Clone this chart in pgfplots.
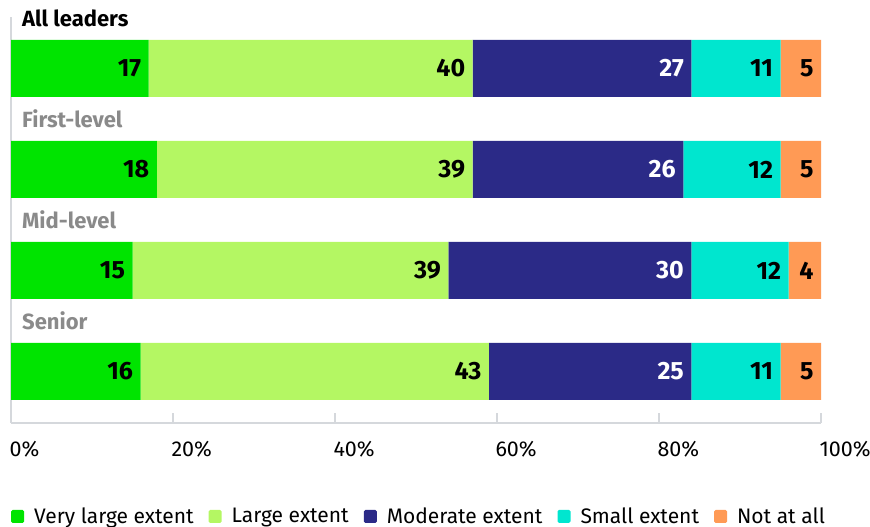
\documentclass[border=0pt]{standalone}
\usepackage{fontspec}
\setmainfont{Fira Sans}
\usepackage{pgfplots}
\pgfplotsset{compat=1.18}
\definecolor{cA}{HTML}{00E400}
\definecolor{cB}{HTML}{B4F763}
\definecolor{cC}{HTML}{2B2A87}
\definecolor{cD}{HTML}{00E6CF}
\definecolor{cE}{HTML}{FF9A55}
\definecolor{axisgrey}{HTML}{D5D8DC}
\definecolor{labgrey}{HTML}{8A8A8A}
\begin{document}
\begin{tikzpicture}
\useasboundingbox (0pt,0pt) rectangle (870pt,527pt);
\begin{axis}[
  at={(11pt,104pt)}, anchor=south west,
  scale only axis, width=810pt, height=406pt,
  xmin=0, xmax=100, ymin=104, ymax=510,
  xbar stacked, bar width=57pt,
  axis x line=bottom, axis y line=left,
  axis line style={-, draw=axisgrey, line width=1.5pt},
  ytick=\empty,
  xtick={0,20,40,60,80,100},
  xticklabels={0\%,20\%,40\%,60\%,80\%,100\%},
  tick align=inside, major tick length=10pt,
  tick style={draw=axisgrey, line width=1.2pt},
  xticklabel style={anchor=north west, xshift=-5pt, yshift=-15pt, font=\fontsize{21.5}{26}\selectfont, text=black},
  nodes near coords, point meta=explicit symbolic,
  every node near coord/.append style={anchor=east, xshift={\pgfplotspointmeta*4.05pt-4pt}, font=\bfseries\fontsize{25}{30}\selectfont, text=black},
  legend columns=5,
  legend style={at={(0,-0.229)}, anchor=west, draw=none, fill=none, inner sep=0pt,
    font=\fontsize{21}{25}\selectfont,
    /tikz/every odd column/.append style={column sep=8pt},
    /tikz/every even column/.append style={column sep=13pt}},
  legend cell align=left,
  legend image code/.code={\fill[rounded corners=1.5pt] (0pt,-7pt) rectangle (13pt,6pt);},
]
\addplot[fill=cA, draw=none] coordinates {(17,458.5)[17] (18,357.5)[18] (15,256.5)[15] (16,155.5)[16]};
\addlegendentry{Very large extent}
\addplot[fill=cB, draw=none] coordinates {(40,458.5)[40] (39,357.5)[39] (39,256.5)[39] (43,155.5)[43]};
\addlegendentry{Large extent}
\addplot[fill=cC, draw=none, every node near coord/.append style={text=white}] coordinates {(27,458.5)[27] (26,357.5)[26] (30,256.5)[30] (25,155.5)[25]};
\addlegendentry{Moderate extent}
\addplot[fill=cD, draw=none] coordinates {(11,458.5)[11] (12,357.5)[12] (12,256.5)[12] (11,155.5)[11]};
\addlegendentry{Small extent}
\addplot[fill=cE, draw=none] coordinates {(5,458.5)[5] (5,357.5)[5] (4,256.5)[4] (5,155.5)[5]};
\addlegendentry{Not at all}
\end{axis}
\node[anchor=base west, font=\bfseries\fontsize{22}{26}\selectfont, text=black, inner sep=0pt] at (22pt,500pt) {All leaders};
\node[anchor=base west, font=\bfseries\fontsize{22}{26}\selectfont, text=labgrey, inner sep=0pt] at (22pt,399pt) {First-level};
\node[anchor=base west, font=\bfseries\fontsize{22}{26}\selectfont, text=labgrey, inner sep=0pt] at (22pt,298pt) {Mid-level};
\node[anchor=base west, font=\bfseries\fontsize{22}{26}\selectfont, text=labgrey, inner sep=0pt] at (22pt,197pt) {Senior};
\end{tikzpicture}
\end{document}
